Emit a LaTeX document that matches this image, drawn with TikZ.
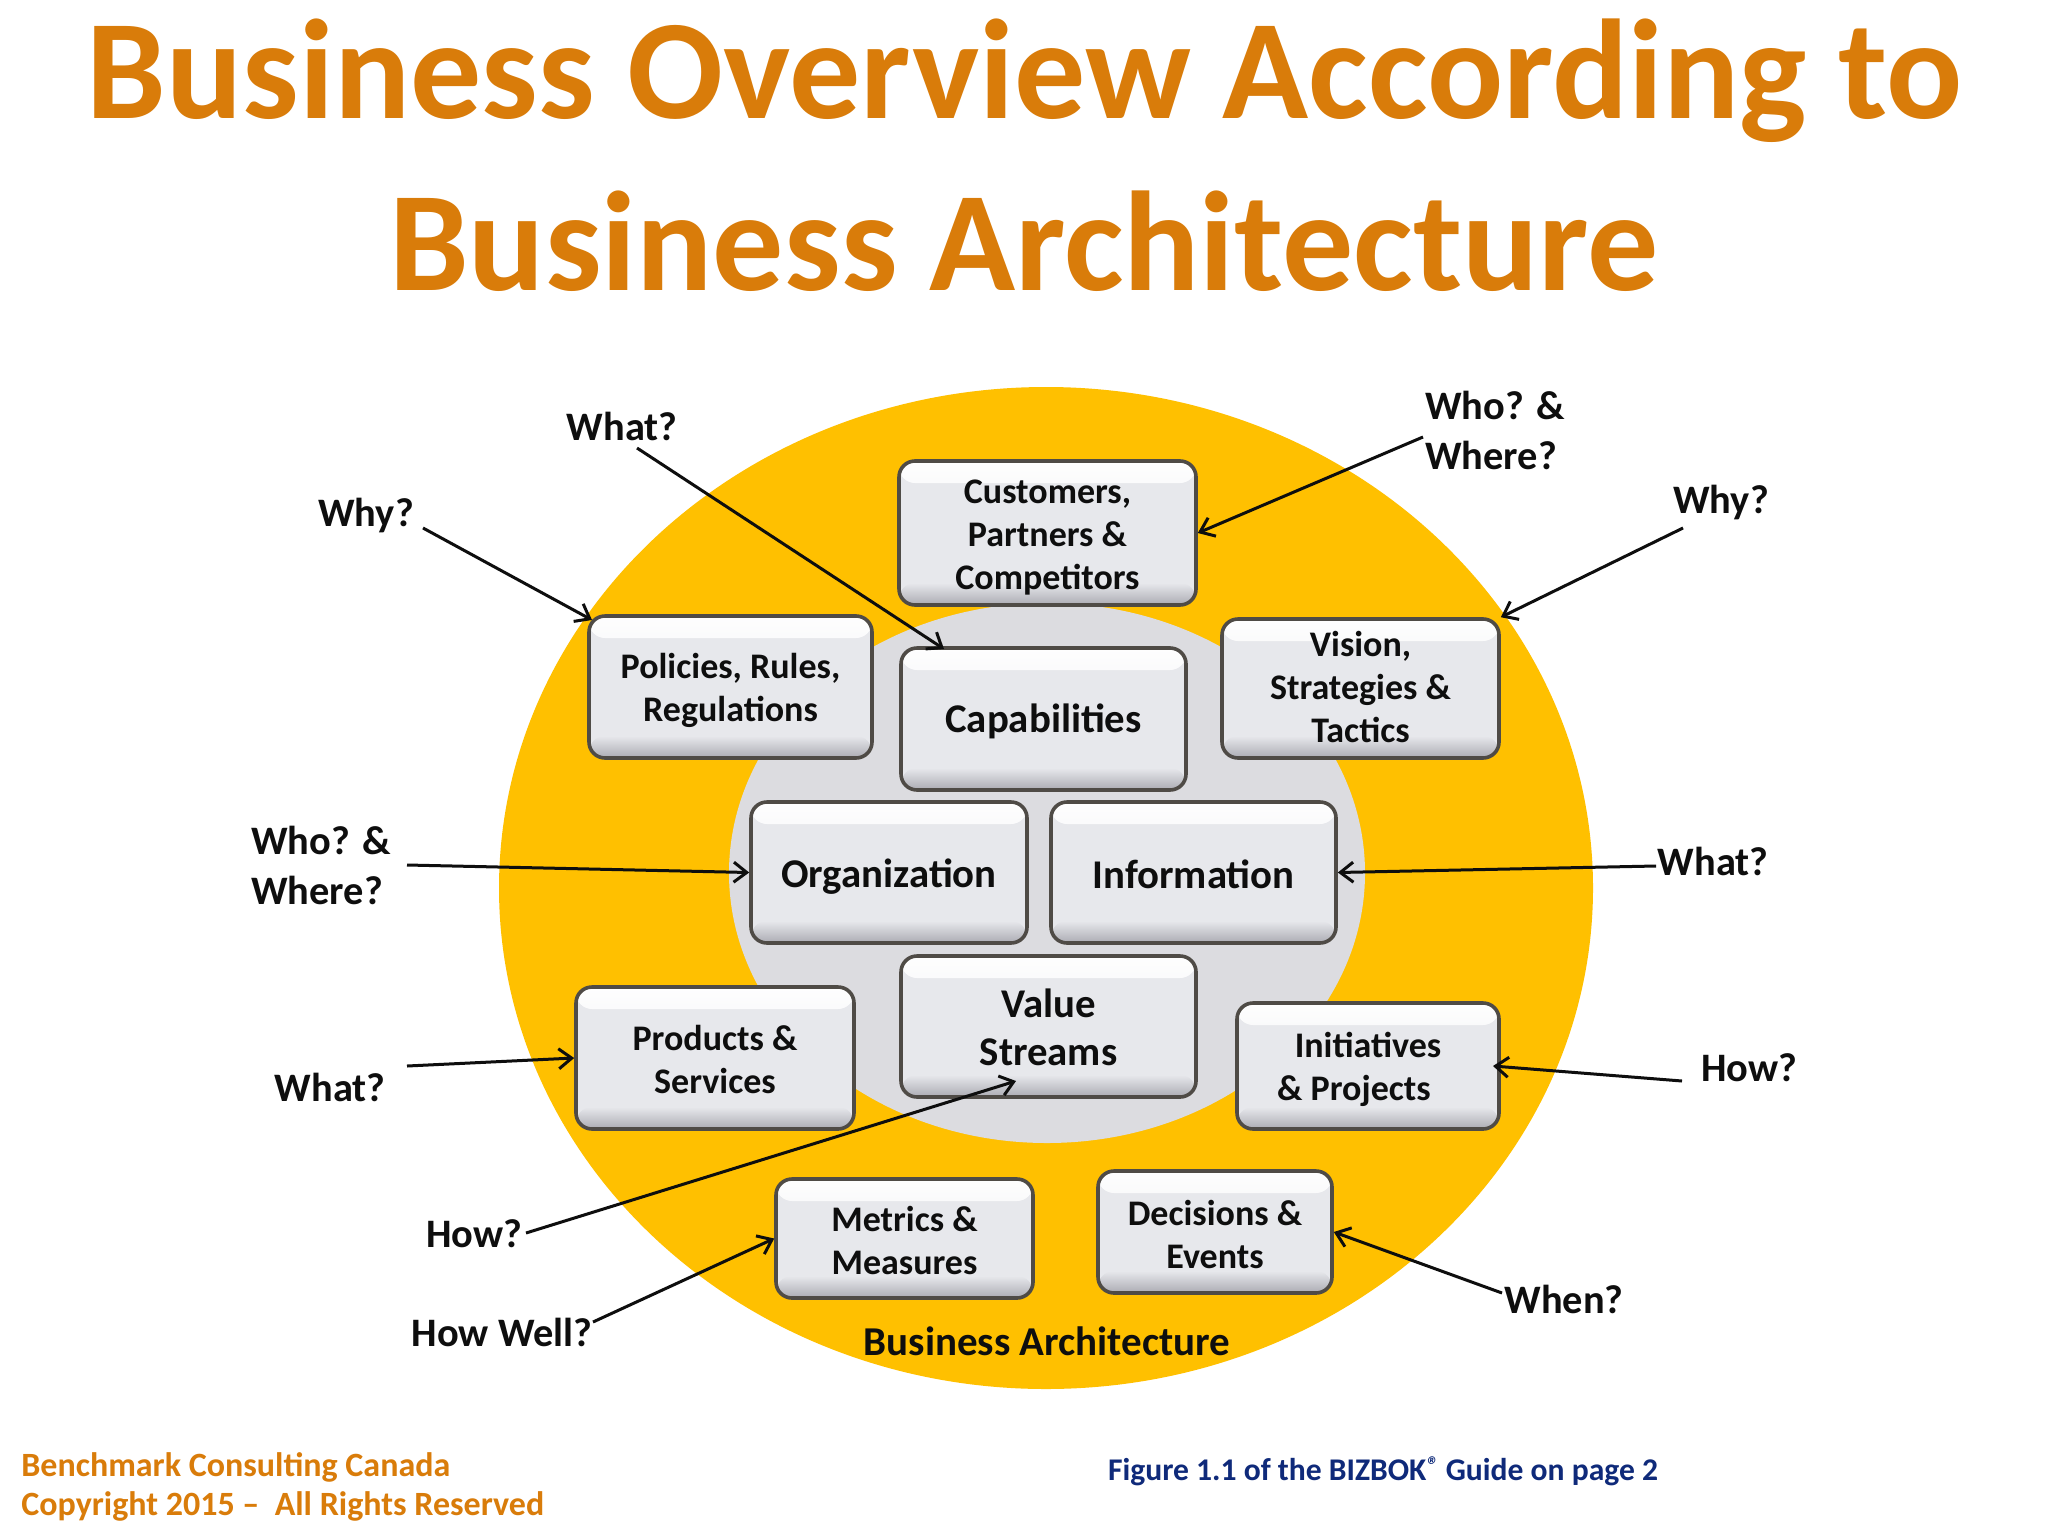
\documentclass[tikz,border=0pt]{standalone}
\usepackage{fontspec}
\setmainfont{Carlito}
\usetikzlibrary{arrows.meta}
\definecolor{titleor}{HTML}{D97C0A}
\definecolor{ringy}{HTML}{FFC000}
\definecolor{innerg}{HTML}{DCDCE0}
\definecolor{boxg}{HTML}{E7E8EC}
\definecolor{boxedge}{HTML}{4F4B46}
\definecolor{boxlow}{HTML}{A0A0A8}
\definecolor{navy}{HTML}{0F2A7A}
\definecolor{ink}{HTML}{0E0E0E}
\newcommand\dn[1]{\rule{0pt}{#1pt}}
\tikzset{
  bx/.style 2 args={minimum width=#1*0.5pt, minimum height=#2*0.5pt},
  mbox/.style={draw=boxedge, line width=1.8pt, rounded corners=8pt, fill=boxg, align=center,
    inner sep=0pt, text=ink, font=\bfseries\fontsize{18}{21.5}\selectfont,
    path picture={
      \shade[top color=white, bottom color=boxg] ([yshift=3pt]path picture bounding box.north west) rectangle ([yshift=-11pt]path picture bounding box.north east);
      \shade[top color=boxg, bottom color=boxlow] ([yshift=11pt]path picture bounding box.south west) rectangle ([yshift=-2pt]path picture bounding box.south east);
    }},
  bigbox/.style={mbox, font=\bfseries\fontsize{20.4}{24}\selectfont},
  lbl/.style={align=left, inner sep=0pt, text=ink, font=\bfseries\fontsize{20.2}{25}\selectfont},
  arr/.style={draw=ink, line width=1.5pt, -{Straight Barb[length=6.5pt,width=10pt,line width=1.5pt]}},
  ttl/.style={anchor=base, inner sep=0pt, text=titleor, font=\bfseries\fontsize{71}{71}\selectfont},
  foot/.style={anchor=base west, inner sep=0pt, text=titleor, font=\bfseries\fontsize{17}{20}\selectfont}
}
\begin{document}
\begin{tikzpicture}[x=0.5pt,y=-0.5pt]
\useasboundingbox (0,0) rectangle (2048,1536);
\fill[white] (0,0) rectangle (2048,1536);
\node[ttl] (t1) at (1025,119) {Business Overview According to};
\node[ttl] (t2) at (1024,290) {Business Architecture};
% rings
\fill[ringy] (1046,888) ellipse [x radius=547, y radius=501];
\fill[innerg] (1047,873) ellipse [x radius=318, y radius=270];
% boxes
\node[mbox,bx={297}{144}] (cust) at (1047.5,533) {\dn{16}Customers,\\Partners \&\\Competitors};
\node[mbox,bx={283}{142}] (poli) at (730.5,687) {\dn{16}Policies, Rules,\\Regulations};
\node[bigbox,bx={285}{142}] (capa) at (1043.5,719) {\dn{17}Capabilities};
\node[mbox,bx={277}{139}] (visi) at (1360.5,688.5) {Vision,\\Strategies \&\\Tactics\rule[-1.6pt]{0pt}{1pt}};
\node[bigbox,bx={276}{141}] (orga) at (889,872.5) {\dn{18.5}Organization};
\node[bigbox,bx={285}{141}] (info) at (1193.5,872.5) {\dn{16.3}Information};
\node[mbox,bx={278}{142}] (prod) at (715,1058) {\dn{14.5}Products \&\\Services};
\node[bigbox,bx={295}{141}] (valu) at (1048.5,1026.5) {\dn{15.5}Value\\Streams};
\node[mbox,bx={262}{126}] (init) at (1368,1066) {\dn{16}Initiatives\\\& Projects\hspace*{14pt}};
\node[mbox,bx={257}{119}] (metr) at (904.5,1238.5) {\dn{14.5}Metrics \&\\Measures};
\node[mbox,bx={234}{122}] (deci) at (1215,1232) {\dn{15}Decisions \&\\Events};
\node[lbl, font=\bfseries\fontsize{20.5}{25}\selectfont] (ba) at (1047,1341) {Business Architecture};
% labels
\node[lbl] (whoR) at (1495,430) {Who? \&\\Where?};
\node[lbl] (whyR) at (1721,502) {Why?};
\node[lbl] (whatT) at (622,426) {What?};
\node[lbl] (whyL) at (366,515) {Why?};
\node[lbl] (whoL) at (321,865) {Who? \&\\Where?};
\node[lbl] (whatR) at (1713,861) {What?};
\node[lbl] (whatL) at (330,1087) {What?};
\node[lbl] (howR) at (1749,1068) {How?};
\node[lbl] (howL) at (474,1234) {How?};
\node[lbl] (howW) at (502,1332) {How Well?};
\node[lbl] (when) at (1564,1299) {When?};
% connectors
\draw[arr] ([shift={(-72,7)}]whoR.center) -- (cust.east);
\draw[arr] ([shift={(-38,26)}]whyR.center) -- (visi.north east);
\draw[arr] ([shift={(15,22)}]whatT.center) -- ([shift={(-99.5,-70)}]capa.center);
\draw[arr] ([shift={(57,13)}]whyL.center) -- ([shift={(-138.5,-67)}]poli.center);
\draw[arr] ([shift={(86,0)}]whoL.center) -- (orga.west);
\draw[arr] ([shift={(-57,5)}]whatR.center) -- (info.east);
\draw[arr] ([shift={(77,-21)}]whatL.center) -- (prod.west);
\draw[arr] ([shift={(-67,13)}]howR.center) -- ([shift={(125,0)}]init.center);
\draw[arr] ([shift={(52,-1)}]howL.center) -- ([shift={(-32.5,54.5)}]valu.center);
\draw[arr] ([shift={(91,-10)}]howW.center) -- (metr.west);
\draw[arr] ([shift={(-62,-6)}]when.center) -- (deci.east);
% footer
\node[foot] (f1) at (21,1476) {Benchmark Consulting Canada};
\node[foot] (f2) at (21,1515) {Copyright 2015 –\ \ All Rights Reserved};
\node[foot, text=navy, anchor=base, font=\bfseries\fontsize{15.8}{20}\selectfont] (fig) at (1383,1480) {Figure 1.1 of the BIZBOK\raisebox{0.4ex}{\fontsize{12}{12}\selectfont\itshape ®} Guide on page 2};
\end{tikzpicture}
\end{document}
